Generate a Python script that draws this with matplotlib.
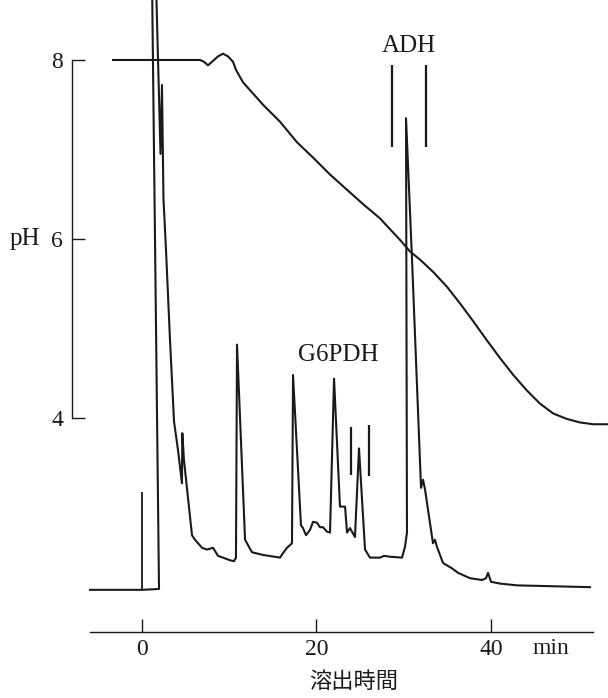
import matplotlib
matplotlib.use("Agg")
import matplotlib.pyplot as plt

# pH gradient (min, pH)
ph_time = [-3.32, 6.65, 7.11, 7.56, 8.14, 8.71, 9.28, 9.86, 10.43, 10.77, 11.58,
           13.87, 15.82, 17.77, 19.60, 21.55, 23.38, 25.33, 27.28, 28.42, 29.57,
           30.72, 31.86, 33.39, 34.92, 36.45, 37.97, 39.51, 41.03, 42.56, 44.09,
           45.62, 47.14, 48.68, 50.20, 51.73, 53.41]
ph_value = [8.00, 8.00, 7.98, 7.94, 7.99, 8.04, 8.07, 8.04, 7.98, 7.89, 7.75,
            7.50, 7.31, 7.08, 6.91, 6.72, 6.56, 6.39, 6.23, 6.11, 5.99,
            5.86, 5.77, 5.63, 5.47, 5.28, 5.08, 4.87, 4.67, 4.48, 4.31,
            4.16, 4.05, 3.99, 3.95, 3.93, 3.93]

# elution trace, signal drawn on the pH scale
trace_time = [-5.96, 0.00, 1.95, 1.15, 1.60, 2.12, 2.29, 2.46, 2.75, 3.21, 3.67,
              4.13, 4.58, 4.62, 4.81, 5.73, 6.07, 6.88, 7.45, 8.14, 8.71, 9.28,
              10.09, 10.54, 10.77, 10.89, 11.81, 12.61, 13.87, 15.82, 16.16, 16.62,
              17.19, 17.31, 18.22, 18.45, 18.80, 19.26, 19.60, 20.06, 20.40, 20.74,
              21.20, 21.55, 22.01, 22.69, 23.27, 23.50, 23.84, 24.41, 24.87, 25.56,
              26.13, 27.28, 27.74, 28.42, 29.80, 30.14, 30.37, 30.26, 30.95, 31.98,
              32.21, 32.44, 33.35, 33.58, 33.81, 34.50, 35.53, 36.22, 37.59, 38.97,
              39.43, 39.66, 40.00, 41.03, 42.98, 51.35]
trace_signal = [2.08, 2.08, 2.09, 8.89, 8.89, 6.95, 7.72, 6.45, 5.88, 4.87, 3.96,
                3.64, 3.27, 3.83, 3.53, 2.69, 2.64, 2.55, 2.53, 2.55, 2.46, 2.44,
                2.41, 2.40, 2.44, 4.82, 2.64, 2.50, 2.47, 2.44, 2.49, 2.55,
                2.60, 4.48, 2.80, 2.77, 2.69, 2.75, 2.84, 2.83, 2.78, 2.78,
                2.73, 2.72, 4.44, 3.01, 3.01, 2.72, 2.77, 2.67, 3.66, 2.53,
                2.44, 2.44, 2.46, 2.45, 2.44, 2.56, 2.72, 7.35, 5.77, 3.22,
                3.31, 3.20, 2.60, 2.64, 2.56, 2.38, 2.32, 2.27, 2.21, 2.19,
                2.21, 2.27, 2.17, 2.15, 2.13, 2.11]

# injection mark and fraction marks: (time, low, high)
injection = (0.0, 2.08, 3.17)
g6pdh_marks = [(23.95, 3.36, 3.90), (26.02, 3.35, 3.92)]
adh_marks = [(28.65, 7.03, 7.94), (32.55, 7.03, 7.94)]

ph_ticks = [4, 6, 8]
time_ticks = [0, 20, 40]

serif = "Liberation Serif"
ink = "#1a1a1a"

fig = plt.figure(figsize=(6.08, 6.98), dpi=100)
ax = fig.add_axes([72 / 608, 66 / 698, 536 / 608, 632 / 698])
ax.set_xlim(-8.023, 53.41)
ax.set_ylim(1.609, 8.670)

ax.plot(ph_time, ph_value, color=ink, lw=1.5, solid_joinstyle="round")
ax.plot(trace_time, trace_signal, color=ink, lw=1.5, solid_joinstyle="round")

ax.vlines(injection[0], injection[1], injection[2], color=ink, lw=1.3)
for t, lo, hi in g6pdh_marks + adh_marks:
    ax.vlines(t, lo, hi, color=ink, lw=1.6)

ax.text(30.6, 8.16, "ADH", family=serif, fontsize=18, ha="center", va="center", color=ink)
ax.text(22.46, 4.70, "G6PDH", family=serif, fontsize=18, ha="center", va="center", color=ink)

for side in ["top", "right"]:
    ax.spines[side].set_visible(False)
ax.spines["left"].set_bounds(4, 8)
ax.spines["bottom"].set_bounds(-5.96, 51.7)
for side in ["left", "bottom"]:
    ax.spines[side].set_linewidth(1.0)
    ax.spines[side].set_color(ink)

ax.set_yticks(ph_ticks)
ax.set_xticks(time_ticks)
ax.tick_params(axis="y", direction="in", length=9.5, width=1.0, pad=6.5, colors=ink, labelsize=17)
ax.tick_params(axis="x", direction="in", length=9.5, width=1.0, pad=5, colors=ink, labelsize=17)
for lab in ax.get_xticklabels() + ax.get_yticklabels():
    lab.set_family(serif)

ax.text(46.9, 1.43, "min", family=serif, fontsize=17, ha="center", va="center", color=ink)
ax.text(-13.4, 6.0, "pH", family=serif, fontsize=18, ha="center", va="center", color=ink)
fig.text(354 / 608, 1 - 681 / 698, "溶出時間", family=["Noto Sans CJK JP", "DejaVu Sans"],
         fontsize=16, ha="center", va="center", color=ink)

fig.savefig("out.png", dpi=100)
